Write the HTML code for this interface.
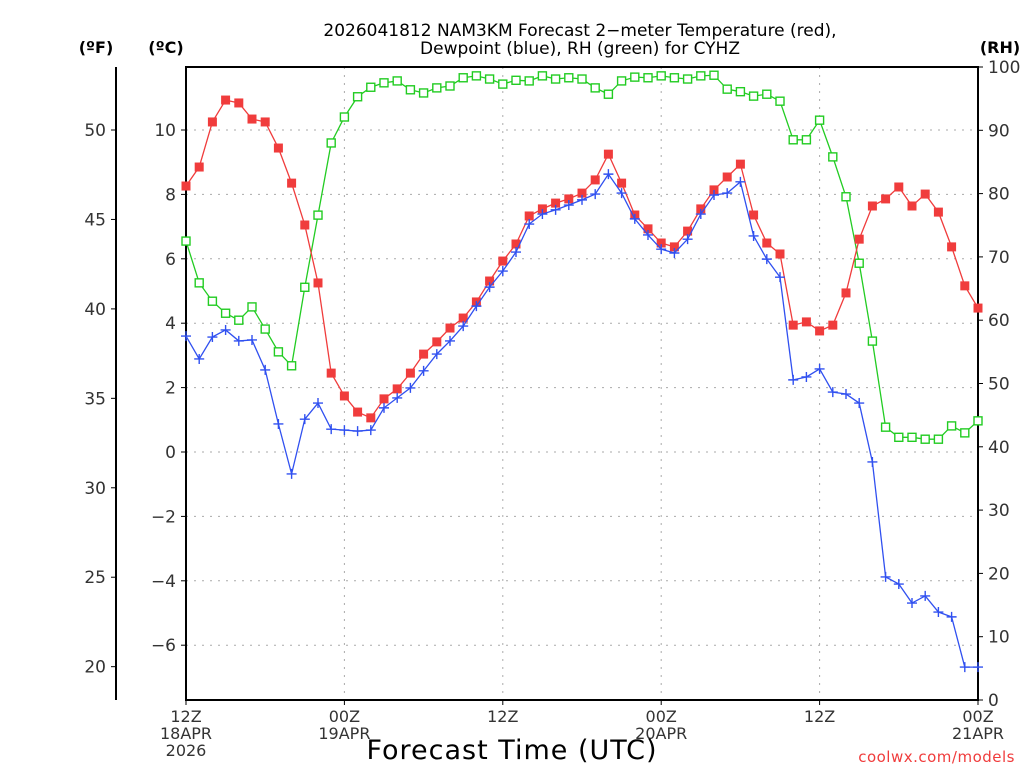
<!DOCTYPE html>
<html><head><meta charset="utf-8"><style>
body{margin:0;background:#fff;width:1024px;height:768px;overflow:hidden}
svg{display:block;font-family:"DejaVu Sans","Liberation Sans",sans-serif}
</style></head><body>
<svg id="c" width="1024" height="768"></svg>
<script>
const hours=[];for(let i=0;i<=60;i++)hours.push(i);
const tempC=[8.26,8.85,10.25,10.93,10.84,10.34,10.25,9.44,8.35,7.05,5.25,2.45,1.74,1.24,1.06,1.65,1.96,2.45,3.04,3.42,3.85,4.16,4.66,5.31,5.93,6.46,7.33,7.55,7.73,7.86,8.04,8.45,9.25,8.35,7.36,6.93,6.49,6.37,6.86,7.55,8.14,8.54,8.94,7.36,6.49,6.15,3.94,4.04,3.76,3.94,4.94,6.61,7.64,7.86,8.23,7.64,8.01,7.45,6.37,5.16,4.47];
const dewC=[3.6,2.89,3.57,3.79,3.45,3.48,2.55,0.87,-0.68,1.02,1.52,0.71,0.68,0.65,0.68,1.37,1.68,1.99,2.52,3.04,3.45,3.91,4.53,5.12,5.62,6.21,7.08,7.39,7.52,7.67,7.83,8.01,8.63,8.04,7.24,6.74,6.3,6.18,6.61,7.39,7.98,8.04,8.39,6.71,5.99,5.43,2.24,2.33,2.58,1.86,1.8,1.52,-0.31,-3.88,-4.1,-4.69,-4.47,-4.97,-5.12,-6.68,-6.68];
const rh=[72.5,65.9,63,61.1,60,62.1,58.6,55,52.8,65.2,76.6,88,92.1,95.3,96.8,97.5,97.8,96.4,95.9,96.7,97,98.3,98.6,98.1,97.3,97.9,97.8,98.6,98.1,98.3,98.1,96.7,95.7,97.8,98.4,98.3,98.6,98.3,98.1,98.6,98.7,96.5,96.1,95.4,95.7,94.6,88.5,88.5,91.6,85.8,79.5,69,56.7,43.1,41.5,41.5,41.2,41.2,43.3,42.2,44.1];
const cTicks=[-6,-4,-2,0,2,4,6,8,10];
const fTicks=[20,25,30,35,40,45,50];
const rhTicks=[0,10,20,30,40,50,60,70,80,90,100];
const xLabels=[[0,"12Z","18APR","2026"],[12,"00Z","19APR",""],[24,"12Z","",""],[36,"00Z","20APR",""],[48,"12Z","",""],[60,"00Z","21APR",""]];

const L=186,R=978,T=67,B=700;
const X=h=>L+(R-L)*h/60;
const YC=c=>452-32.2*c;
const YR=r=>B-(B-T)*r/100;
const YF=f=>YC((f-32)*5/9);
const svg=document.getElementById('c');const NS='http://www.w3.org/2000/svg';
function mk(t,a,p){const e=document.createElementNS(NS,t);for(const k in a)e.setAttribute(k,a[k]);(p||svg).appendChild(e);return e;}
function txt(x,y,s,a){const e=mk('text',Object.assign({x:x,y:y},a||{}));e.textContent=s;return e;}

// grid
const grid=mk('g',{stroke:'#aaa','stroke-dasharray':'2,6','stroke-width':1});


cTicks.forEach(c=>mk('line',{x1:L,x2:R,y1:YC(c),y2:YC(c)},grid));
[12,24,36,48].forEach(h=>mk('line',{x1:X(h),x2:X(h),y1:T,y2:B},grid));

// frame
const fr=mk('rect',{x:L,y:T,width:R-L,height:B-T,fill:'none',stroke:'#000','stroke-width':2});



// C axis
cTicks.forEach(c=>{mk('line',{x1:L-5,x2:L,y1:YC(c),y2:YC(c),stroke:'#000'});
 const t=txt(176,YC(c)+6,(c<0?'\u2212':'')+Math.abs(c),{'text-anchor':'end','font-size':17,fill:'#333'});
 
 });
// F axis
mk('line',{x1:116,x2:116,y1:T,y2:B,stroke:'#000','stroke-width':2});
fTicks.forEach(f=>{mk('line',{x1:111,x2:116,y1:YF(f),y2:YF(f),stroke:'#000'});
 const t=txt(106,YF(f)+6,String(f),{'text-anchor':'end','font-size':17,fill:'#333'});
 
 });
// RH axis
rhTicks.forEach(r=>{mk('line',{x1:R,x2:R+5,y1:YR(r),y2:YR(r),stroke:'#000'});
 const t=txt(988,YR(r)+6,String(r),{'font-size':17,fill:'#333'});
 
 });
// x labels
xLabels.forEach(l=>{const x=X(l[0]);
 mk('line',{x1:x,x2:x,y1:B,y2:B+5,stroke:'#000'});
 [l[1],l[2],l[3]].forEach((s,i)=>{if(s){const t=txt(x,B+22+i*17,s,{'text-anchor':'middle','font-size':16,fill:'#333'});
 
 }});});

function series(vals,yf,color,marker,name){
 const g=mk('g',{});
 
 
 mk('polyline',{points:vals.map((v,i)=>X(hours[i])+','+yf(v)).join(' '),fill:'none',stroke:color,'stroke-width':1.3},g);
 vals.forEach((v,i)=>{const x=X(hours[i]),y=yf(v);
  if(marker==='sq')mk('rect',{x:x-4.5,y:y-4.5,width:9,height:9,fill:color},g);
  else if(marker==='open')mk('rect',{x:x-4,y:y-4,width:8,height:8,fill:'#fff',stroke:color,'stroke-width':1.4},g);
  else mk('path',{d:`M${x-5},${y}H${x+5}M${x},${y-5}V${y+5}`,stroke:color,'stroke-width':1.4},g);});
}
series(rh,YR,'#22cc22','open','rh-series');
series(tempC,YC,'#f03c3c','sq','temperature-series');
series(dewC,YC,'#3050f0','plus','dewpoint-series');

const tt=txt(580,36,'2026041812 NAM3KM Forecast 2\u2212meter Temperature (red),',{'text-anchor':'middle','font-size':17,fill:'#000'});


const t2=txt(580,54,'Dewpoint (blue), RH (green) for CYHZ',{'text-anchor':'middle','font-size':17,fill:'#000'});


[[96,'(ºF)','fahrenheit-unit-label'],[166,'(ºC)','celsius-unit-label'],[1000,'(RH)','rh-unit-label']].forEach(a=>{
 const t=txt(a[0],53,a[1],{'text-anchor':'middle','font-size':16,'font-weight':'bold',fill:'#000'});
 
 });
const xt=txt(512,759,'Forecast Time (UTC)',{'text-anchor':'middle','font-size':27,fill:'#000','letter-spacing':'1'});


const cr=txt(1015,762,'coolwx.com/models',{'text-anchor':'end','font-size':15,fill:'#f03c3c','letter-spacing':'0.5'});


</script>
</body></html>
